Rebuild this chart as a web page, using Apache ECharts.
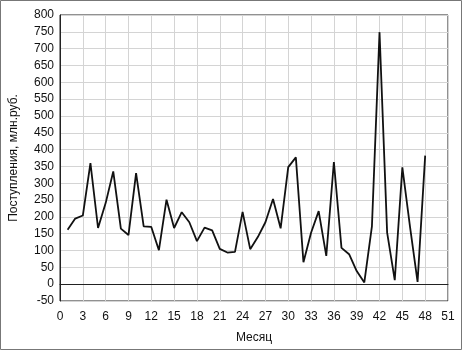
<!DOCTYPE html>
<html><head><meta charset="utf-8">
<script src="https://cdn.jsdelivr.net/npm/echarts@6/dist/echarts.min.js"></script>
<style>html,body{margin:0;padding:0;background:#fff}#c{width:463px;height:351px}</style>
</head><body><div id="c"></div>
<script>
const months = [1,2,3,4,5,6,7,8,9,10,11,12,13,14,15,16,17,18,19,20,21,22,23,24,25,26,27,28,29,30,31,32,33,34,35,36,37,38,39,40,41,42,43,44,45,46,47,48];
const revenue = [162,195,204,360,167,241,335,165,146,330,172,170,101,251,167,214,184,128,168,160,105,94,96,215,104,140,184,253,166,348,377,65,153,217,84,363,108,89,39,5,172,749,153,12,347,172,7,382];
const xTicks = [0,3,6,9,12,15,18,21,24,27,30,33,36,39,42,45,48,51];
const yTicks = [-50,0,50,100,150,200,250,300,350,400,450,500,550,600,650,700,750,800];

const chart = echarts.init(document.getElementById('c'), null, {renderer:'canvas'});
const font = 'Liberation Sans, Arial, sans-serif';
chart.setOption({
  animation:false,
  graphic:[{type:'rect',shape:{x:0.5,y:0.5,width:461,height:349},style:{fill:'none',stroke:'#777',lineWidth:1}}],
  grid:{left:55,right:15,top:15,bottom:50,show:true,borderColor:'#222',borderWidth:1,backgroundColor:'#fff'},
  xAxis:{type:'value',min:xTicks[0],max:xTicks[xTicks.length-1],interval:3,
    name:'Месяц',nameLocation:'middle',nameGap:31,nameTextStyle:{fontFamily:font,fontSize:12,color:'#111'},
    axisLine:{show:true,lineStyle:{color:'#222'}},axisTick:{show:false},
    axisLabel:{fontFamily:font,fontSize:12,color:'#111',margin:10},
    splitLine:{show:true,lineStyle:{color:'#d4d4d4',width:1}}},
  yAxis:{type:'value',min:yTicks[0],max:yTicks[yTicks.length-1],interval:50,
    name:'Поступления, млн.руб.',nameLocation:'middle',nameGap:40,nameTextStyle:{fontFamily:font,fontSize:12,color:'#111'},
    axisLine:{show:true,lineStyle:{color:'#222'}},axisTick:{show:false},
    axisLabel:{fontFamily:font,fontSize:12,color:'#111',margin:6},
    splitLine:{show:true,lineStyle:{color:'#d4d4d4',width:1}}},
  series:[{type:'line',data:months.map((m,i)=>[m,revenue[i]]),symbol:'none',
    lineStyle:{color:'#111',width:1.8},z:5}]
});
</script></body></html>
